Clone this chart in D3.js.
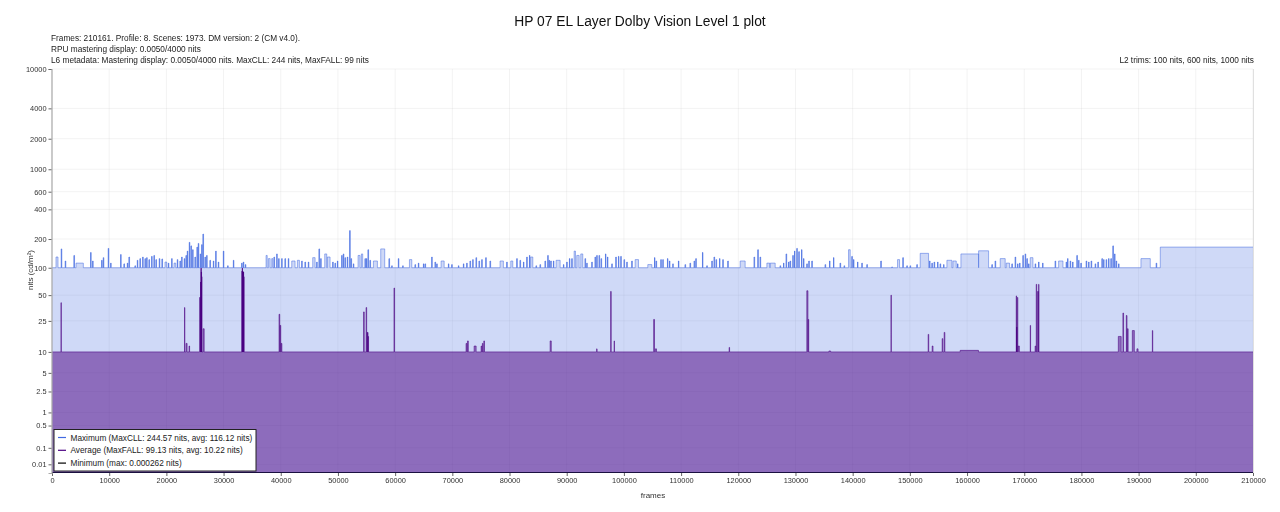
<!DOCTYPE html>
<html><head><meta charset="utf-8">
<style>html,body{margin:0;background:#fff}svg{display:block;filter:blur(0.35px)}text{font-family:"Liberation Sans",Arial,sans-serif}</style>
<script src="https://cdn.jsdelivr.net/npm/d3@7"></script></head><body>
<svg id="c" width="1280" height="512"></svg>
<script>
const titleText = "HP 07 EL Layer Dolby Vision Level 1 plot";
const infoLines = ["Frames: 210161. Profile: 8. Scenes: 1973. DM version: 2 (CM v4.0).","RPU mastering display: 0.0050/4000 nits","L6 metadata: Mastering display: 0.0050/4000 nits. MaxCLL: 244 nits, MaxFALL: 99 nits"];
const trimsText = "L2 trims: 100 nits, 600 nits, 1000 nits";
const legendLabels = ["Maximum (MaxCLL: 244.57 nits, avg: 116.12 nits)","Average (MaxFALL: 99.13 nits, avg: 10.22 nits)","Minimum (max: 0.000262 nits)"];
const yTicks = [10000,4000,2000,1000,600,400,200,100,50,25,10,5,2.5,1,0.5,0.1,0.01];
const xTicks = d3.range(0,210001,10000);
const frameEnd = 210000;
const maxBase = 100, avgBase = 10;
// [start frame, nits, scene length]
const maxScenes = [[700,130,350],[1630,158],[2330,118],[3850,135],[4200,112,1280],[6760,145],[7110,118],[8690,120],[8980,128],[9850,160],[10260,112],[12010,138],[12590,110],[13180,112],[13470,130],[14520,105],[14930,120],[15390,125],[15860,130],[16270,125],[16560,128],[16970,122],[17430,132],[17840,135],[18190,122],[18770,125],[19240,124],[19760,115,300],[20350,112],[20930,125],[21340,112,300],[21920,122],[22390,118],[22680,130],[23140,125],[23440,135],[23670,150],[24020,185],[24310,170],[24600,155],[25010,130],[25360,165],[25590,180],[25940,140],[26180,175],[26410,225],[26760,130],[27050,135],[27630,120],[28220,118],[28630,150],[29090,115],[29970,150],[30720,105],[31720,120],[33170,112],[33460,115],[33810,108],[37430,135,200],[37840,125,300],[38420,125,200],[38830,130],[39300,140],[39640,125],[40170,125],[40750,125],[41330,125],
[41920,118,580],[42910,120,350],[43670,118],[44250,115],[44830,115],[45590,128,410],[46290,115],[46700,158],[46990,125],[47690,140,350],[48150,130,470],[49090,115],[49500,112],[49910,118],[50660,135],[50950,140],[51250,128],[51650,130],[52060,244],[52300,125],[52700,110],[53520,135,350],[54100,140,230],[54740,125],[54980,125],[55270,155],[55620,120],[56200,118,700],[57480,158,700],[58940,125],[59410,105],[60570,125],[61330,105],[62500,122,410],[63490,108],[64070,112],[64950,110],[65240,110],[66400,130],[66990,115],[67280,110],[68040,118,530],[69320,110],[69900,108],[71070,105],[71940,110],[72520,112],[73110,118],[73570,122],[74160,128],[74680,118],[75150,122],[75850,128],[76610,118],[78350,118,580],[79520,115],[80220,118,350],[81270,125],[81850,120],[82440,115],[83020,130],[83490,135],
[83700,130,370],[84650,105],[85350,108],[86220,118],[86690,135],[86930,120],[87220,118],[87680,118],[88150,120,700],[89430,108],[90010,115],[90480,125],[90890,125],[91300,150,230],[91760,135,410],[92460,140,350],[93220,125],[93510,112],[94390,115],[94970,130],[95260,135],[95670,135],[96020,125],[96780,140],[97130,130],[97890,110],[98590,130],[99050,132],[99460,132],[100040,122],[100510,115],[101380,118],[101970,122,580],[104180,108,700],[105350,128],[105640,118],[106460,122],[106810,122],[107620,125],[107970,118],[108550,110],[109540,118],[110710,108],[111580,112],[112290,118],[112580,125],[113740,145],[114500,105],[115380,118],[115780,130],[116130,122],[116720,125],[117300,122],[118170,118],[120330,118,870],[122780,130],[123420,155],[123830,130],[125000,112,500],
[125580,112,870],[127330,105],[127910,112],[128380,140],[128790,115],[129080,118],[129540,135],[129830,150],[130240,160],[130590,148],[131060,155],[131410,125],[131990,110],[132340,118],[132870,118],[135200,108],[135960,118],[136650,128],[137820,112],[138520,105],[139280,155,290],[139860,132],[140150,122],[140850,115],[141610,112],[142490,108],[144930,118],[146860,102],[147850,122,350],[148780,128],[149480,105],[150060,105],[151230,108],[151810,142,1460],[153450,118],[153860,112],[154260,115],[154850,115],[155310,110],[155900,108],[156480,120,870],[157530,118,580],[158340,110],[158930,140,3090],[162020,151,1750],[164350,108],[164930,118],[165800,125,870],[166850,112,580],
[167850,110],[168430,130],[168840,110],[169190,112],[169770,135],[170180,140],[170470,125],[170760,110],[171050,128,470],[171930,110],[172510,115],[173210,112],[175420,118],[176010,118,760],[177350,115],[177580,125],[178050,118],[178460,115],[179210,135],[179510,120],[179910,112],[180850,118],[181260,115],[181720,118],[182420,110],[182890,115],[183590,125],[183880,122],[184340,122],[184750,125],[185160,125],[185510,170],[185800,140],[186090,118],[186500,110],[190410,125,1630],[193090,112],[193790,165,16210]];
const avgScenes = [[1570,41,60],[23170,36,60],[23440,13,180],[23960,12,100],[25800,47,150],[25990,70,40],[26060,99,40],[26120,90,30],[26170,80,30],[26410,20,200],[33230,92,30],[33280,99,30],[33330,92,30],[33380,90,30],[33430,90,30],[33480,90,30],[33530,80,40],[39700,30,120],[39880,22,120],[40050,13,150],[54480,32,120],[54920,36,100],[55090,18,60],[55200,18,50],[55290,16,60],[59800,60,100],[72400,13,150],[72650,14,150],[73810,12,350],[75030,12,120],[75250,13,120],[75500,14,120],[87100,14,200],[95230,11,80],[97680,55,100],[98290,14,60],[105200,26,150],[105500,11,200],[118400,11.5,80],[131980,56,200],[132220,26,100],[135850,10.3,300],[146700,50,60],[153200,17,100],[153900,12,150],[155650,15,120],[156000,18,120],[158800,10.5,3200],[168600,49,60],[168680,21,30],[168780,47,100],[168950,12,200],[171050,22,60],[171900,12,120],[172100,66,80],[172330,55,150],[172520,66,50],[186450,16,500],[187250,31,120],[187850,29,120],[188020,20,150],[188900,19,350],[189700,11,200],[192400,19,70]];
const minFrames = [0,210000], minValues = [0.0001,0.0001];

const L={l:52,r:1253,t:69,b:473};
function pq(n){const m1=0.1593017578125,m2=78.84375,c1=0.8359375,c2=18.8515625,c3=18.6875;const p=Math.pow(n/10000,m1);return Math.pow((c1+c2*p)/(1+c3*p),m2);}
const x=d3.scaleLinear().domain([0,frameEnd]).range([L.l,L.r]);
const yPq=d3.scaleLinear().domain([0,1]).range([L.b,L.t]);
const y=n=>yPq(pq(n));
const svg=d3.select("#c");
const txt="#333";

function steps(scenes,base){
  const pts=[{f:0,v:base}];
  scenes.forEach(s=>{pts.push({f:s[0],v:s[1]});pts.push({f:s[0]+(s[2]||90),v:base});});
  const last=pts[pts.length-1];
  if(last.f<frameEnd) pts.push({f:frameEnd,v:base}); else { last.f=frameEnd; last.v=pts[pts.length-2].v; }
  return pts;
}
// grid
const g=svg.append("g");
g.selectAll(".gx").data(xTicks).join("line").attr("x1",d=>x(d)).attr("x2",d=>x(d)).attr("y1",L.t).attr("y2",L.b).attr("stroke","#000").attr("stroke-opacity",0.05);
g.selectAll(".gy").data(yTicks).join("line").attr("y1",d=>y(d)).attr("y2",d=>y(d)).attr("x1",L.l).attr("x2",L.r).attr("stroke","#000").attr("stroke-opacity",0.05);

const area=d3.area().x(d=>x(d.f)).y0(L.b).y1(d=>y(d.v)).curve(d3.curveStepAfter);
const line=d3.line().x(d=>x(d.f)).y(d=>y(d.v)).curve(d3.curveStepAfter);
const maxPts=steps(maxScenes,maxBase), avgPts=steps(avgScenes,avgBase);
const blue="rgb(65,105,225)", indigo="rgb(75,0,130)";
function edges(scenes,base,colour,limit,op){
  svg.append("g").selectAll("line").data(scenes.filter(s=>(s[2]||90)<=limit)).join("line")
    .attr("x1",s=>x(s[0])).attr("x2",s=>x(s[0])).attr("y1",s=>y(s[1])).attr("y2",y(base))
    .attr("stroke",colour).attr("stroke-opacity",op).attr("stroke-width",1);
}
svg.append("path").attr("d",area(maxPts)).attr("fill",blue).attr("fill-opacity",0.25);
svg.append("path").attr("d",line(maxPts)).attr("fill","none").attr("stroke",blue).attr("stroke-opacity",0.5).attr("stroke-width",1);
edges(maxScenes,maxBase,blue,90,0.6);
svg.append("path").attr("d",area(avgPts)).attr("fill",indigo).attr("fill-opacity",0.5);
svg.append("path").attr("d",line(avgPts)).attr("fill","none").attr("stroke",indigo).attr("stroke-opacity",0.55).attr("stroke-width",1);
edges(avgScenes,avgBase,indigo,40,0.6);
svg.append("path").attr("d",d3.line().x((d,i)=>x(minFrames[i])).y(L.b-0.5)(minValues)).attr("fill","none").attr("stroke","#1a1040").attr("stroke-width",1.2);

// axes
const ax=svg.append("g").attr("transform",`translate(0,${L.b})`).call(d3.axisBottom(x).tickValues(xTicks).tickFormat(d3.format("d")).tickSize(3).tickPadding(2));
const ay=svg.append("g").attr("transform",`translate(${L.l-0.5},0)`).call(d3.axisLeft(yPq).tickValues(yTicks.map(pq)).tickFormat((d,i)=>yTicks[i]).tickSize(3).tickPadding(2));
[ax,ay].forEach(a=>{a.selectAll("text").attr("font-size",7.4).attr("fill",txt).style("font-family",'"Liberation Sans"');a.selectAll(".tick line").attr("stroke","#666");a.select(".domain").attr("stroke","#aaa").attr("stroke-width",1.2);});
ax.select(".domain").attr("stroke","none");
svg.append("line").attr("x1",L.r+0.5).attr("x2",L.r+0.5).attr("y1",L.t).attr("y2",L.b).attr("stroke","#000").attr("stroke-opacity",0.1);

// text
svg.append("text").attr("x",640).attr("y",26).attr("text-anchor","middle").attr("font-size",13.8).attr("fill","#111").text(titleText);
svg.selectAll(".info").data(infoLines).join("text").attr("x",51).attr("y",(d,i)=>41+i*10.8).attr("font-size",8.27).attr("fill","#222").text(d=>d);
svg.append("text").attr("x",1254).attr("y",62.6).attr("text-anchor","end").attr("font-size",8.27).attr("fill","#222").text(trimsText);
svg.append("text").attr("x",653).attr("y",498).attr("text-anchor","middle").attr("font-size",8).attr("fill",txt).text("frames");
svg.append("text").attr("transform","translate(33,270) rotate(-90)").attr("text-anchor","middle").attr("font-size",8).attr("fill",txt).text("nits (cd/m²)");

// legend
const lg=svg.append("g");
lg.append("rect").attr("x",54).attr("y",429.5).attr("width",202).attr("height",41.5).attr("fill","#fff").attr("stroke","#222").attr("stroke-width",1);
const legendColors=[blue,indigo,"#000"];
legendLabels.forEach((t,i)=>{
  const yy=437.5+i*12.8;
  lg.append("line").attr("x1",58).attr("x2",66).attr("y1",yy).attr("y2",yy).attr("stroke",legendColors[i]).attr("stroke-width",1.2);
  lg.append("text").attr("x",70.5).attr("y",yy+3).attr("font-size",8.27).attr("fill","#222").text(t);
});
</script></body></html>
